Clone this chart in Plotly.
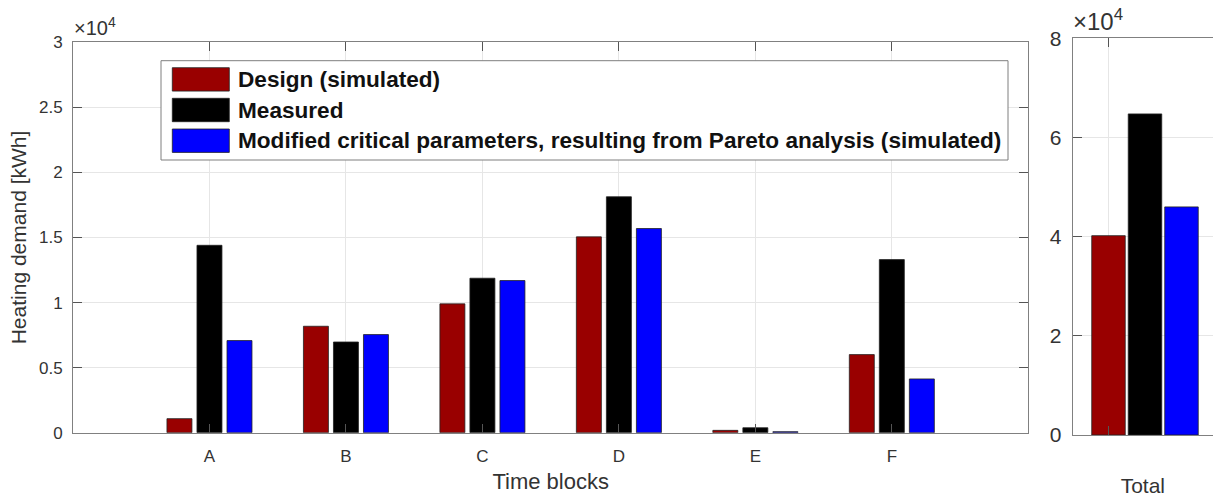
import plotly.graph_objects as go

# Heating demand per time block [kWh]
blocks = ["A", "B", "C", "D", "E", "F"]
design = [1080, 8180, 9900, 15050, 180, 6000]
measured = [14400, 6970, 11870, 18130, 380, 13300]
modified = [7080, 7540, 11690, 15690, 80, 4130]

# Whole-period totals [kWh]
total_design = [40200]
total_measured = [64750]
total_modified = [46000]

series_names = [
    "Design (simulated)",
    "Measured",
    "Modified critical parameters, resulting from Pareto analysis (simulated)",
]
colors = ["#990000", "#000000", "#0000ff"]

left_ticks = [0, 5000, 10000, 15000, 20000, 25000, 30000]
left_ticktext = ["0", "0.5", "1", "1.5", "2", "2.5", "3"]
right_ticks = [0, 20000, 40000, 60000, 80000]
right_ticktext = ["0", "2", "4", "6", "8"]

W, H = 1213, 501
FONT = "Liberation Sans, Arial, sans-serif"
TXT = "#333333"
AXC = "#808080"
GRID = "#e6e6e6"


def px(x):
    return x / W


def py(y):
    return 1 - y / H


fig = go.Figure()

# grouped bars, left panel
bw_l, pitch_l = 0.183, 0.22
for i, (vals, name, col) in enumerate(zip([design, measured, modified], series_names, colors)):
    fig.add_trace(go.Bar(
        x=blocks, y=vals, name=name, xaxis="x", yaxis="y",
        width=bw_l, offset=(i - 1) * pitch_l - bw_l / 2,
        marker=dict(color=col, line=dict(color="#222222", width=0.8)),
        showlegend=False,
    ))

# totals, right panel
bw_r, pitch_r = 0.335, 0.365
for i, (vals, name, col) in enumerate(zip([total_design, total_measured, total_modified], series_names, colors)):
    fig.add_trace(go.Bar(
        x=[1], y=vals, name=name, xaxis="x2", yaxis="y2",
        width=bw_r, offset=i * pitch_r - bw_r / 2,
        marker=dict(color=col, line=dict(color="#222222", width=0.8)),
        showlegend=False,
    ))

axis_common = dict(
    showline=True, linecolor=AXC, linewidth=1, mirror="ticks",
    ticks="inside", ticklen=9, tickcolor="#555555", tickwidth=1,
    showgrid=True, gridcolor=GRID, gridwidth=1, zeroline=False,
    automargin=False,
)

fig.update_layout(
    width=W, height=H,
    margin=dict(l=0, r=0, t=0, b=0),
    plot_bgcolor="white", paper_bgcolor="white",
    barmode="overlay",
    font=dict(family=FONT, color=TXT),
    xaxis=dict(
        domain=[px(73), px(1028.3)], range=[-1, 6], type="category",
        categoryorder="array", categoryarray=blocks,
        tickfont=dict(size=17, color=TXT), ticklabelstandoff=8,
        title=dict(text="Time blocks", font=dict(size=22, color=TXT), standoff=8),
        anchor="y", **axis_common,
    ),
    yaxis=dict(
        domain=[py(432.7), py(42.3)], range=[0, 30000],
        tickvals=left_ticks, ticktext=left_ticktext,
        tickfont=dict(size=17, color=TXT), ticklabelstandoff=6,
        title=dict(text="Heating demand [kWh]", font=dict(size=21, color=TXT), standoff=6),
        anchor="x", **axis_common,
    ),
    xaxis2=dict(
        domain=[px(1072.7), 1.0], range=[0.642, 2.045],
        tickvals=[1], ticktext=[""],
        title=dict(text="Total", font=dict(size=21, color=TXT), standoff=40),
        anchor="y2", **axis_common,
    ),
    yaxis2=dict(
        domain=[py(435), py(38.3)], range=[0, 80000],
        tickvals=right_ticks, ticktext=right_ticktext,
        tickfont=dict(size=21, color=TXT), ticklabelstandoff=6,
        anchor="x2",
        **{**axis_common, "mirror": False},
    ),
)

# axis multipliers
fig.add_annotation(
    x=px(72), y=py(41), xref="paper", yref="paper", xanchor="left", yanchor="bottom",
    text="×10<sup>4</sup>", showarrow=False, font=dict(size=20, color=TXT),
)
fig.add_annotation(
    x=px(1071), y=py(37), xref="paper", yref="paper", xanchor="left", yanchor="bottom",
    text="×10<sup>4</sup>", showarrow=False, font=dict(size=24, color=TXT),
)

# legend box
fig.add_shape(
    type="rect", xref="paper", yref="paper",
    x0=px(161), x1=px(1008), y0=py(160), y1=py(60.7),
    line=dict(color="#7f7f7f", width=1), fillcolor="white", layer="above",
)
row_top = [67.7, 98.3, 129.0]
for top, name, col in zip(row_top, series_names, colors):
    fig.add_shape(
        type="rect", xref="paper", yref="paper",
        x0=px(172.3), x1=px(229.3), y0=py(top + 23.4), y1=py(top),
        line=dict(color="#222222", width=0.8), fillcolor=col, layer="above",
    )
    fig.add_annotation(
        x=px(236), y=py(top + 11.7), xref="paper", yref="paper",
        xanchor="left", yanchor="middle", showarrow=False,
        text=f"<b>{name}</b>", font=dict(size=22.6, color="#111111", family=FONT),
    )

fig.write_html("out.html")
